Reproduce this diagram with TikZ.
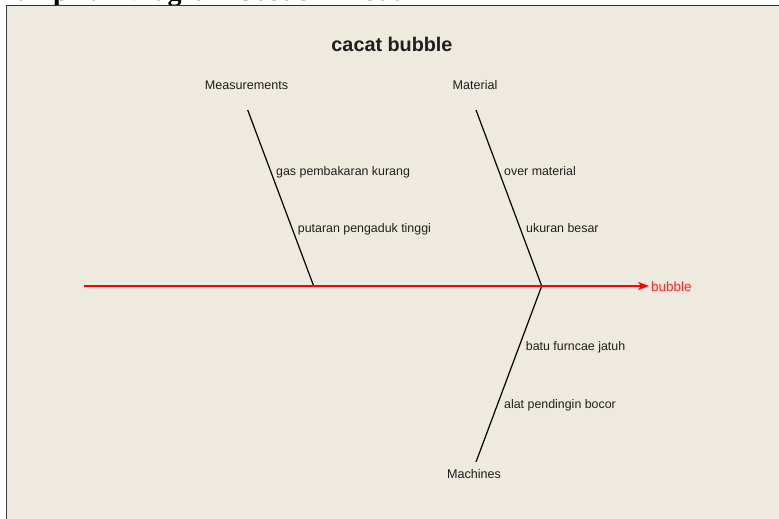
\documentclass[tikz,border=0pt]{standalone}
\usepackage{fontspec}
\setmainfont{Liberation Sans}
\newfontfamily\serifbold{Liberation Serif}
\usetikzlibrary{arrows.meta}
\definecolor{panelbg}{RGB}{239,234,224}
\definecolor{txtgray}{RGB}{30,30,30}
\definecolor{spinered}{RGB}{255,0,0}
\definecolor{effectred}{RGB}{255,40,40}
\tikzset{
  lbl/.style={inner sep=0pt, anchor=base west, text=txtgray, font=\fontsize{12.4}{14}\selectfont},
  catlbl/.style={inner sep=0pt, anchor=base, text=txtgray, font=\fontsize{12.6}{14}\selectfont},
  bone/.style={draw=black, line width=1.2pt},
  spine/.style={draw=spinered, line width=1.4pt, -{Stealth[length=11pt,width=8pt,inset=3pt]}},
}
\begin{document}
\begin{tikzpicture}[x=1pt,y=-1pt]
\useasboundingbox (0,0) rectangle (779,519);
% cut-off heading above the panel
\node[inner sep=0pt, anchor=base west, font=\serifbold\bfseries\fontsize{28}{30}\selectfont] (heading) at (-3,0.8) {Lampiran Diagram Sebab Akibat};
% panel
\fill[panelbg] (6,5) rectangle (790,530);
\draw[line width=1.6pt, draw={rgb,255:red,50;green,50;blue,50}] (6,5.5) -- (790,5.5);
\draw[line width=1pt, draw={rgb,255:red,60;green,60;blue,60}] (6.3,5) -- (6.3,530);
% title
\node[inner sep=0pt, anchor=base, text=txtgray, font=\bfseries\fontsize{19.8}{21}\selectfont] (title) at (392,52) {cacat bubble};
% category labels
\node[catlbl] (meas) at (246.5,89) {Measurements};
\node[catlbl] (mat) at (475,89) {Material};
\node[catlbl] (mach) at (474,478.3) {Machines};
% bone coordinates
\coordinate (measTop) at (247.7,110);
\coordinate (measBot) at (313.7,286);
\coordinate (matTop) at (476,110);
\coordinate (joint) at (541.7,286);
\coordinate (machBot) at (476,462);
\coordinate (spineStart) at (84,286);
\coordinate (spineEnd) at (649,286);
% bones
\draw[bone] (measTop) -- (measBot);
\draw[bone] (matTop) -- (joint);
\draw[bone] (joint) -- (machBot);
% spine
\draw[spine] (spineStart) -- (spineEnd);
\node[inner sep=0pt, anchor=base west, text=effectred, font=\fontsize{13.5}{15}\selectfont] (effect) at (651,291.7) {bubble};
% causes
\node[lbl] (c1) at (276,175) {gas pembakaran kurang};
\node[lbl] (c2) at (297.7,232.7) {putaran pengaduk tinggi};
\node[lbl] (c3) at (504,175) {over material};
\node[lbl] (c4) at (526,232.7) {ukuran besar};
\node[lbl] (c5) at (525.7,350) {batu furncae jatuh};
\node[lbl] (c6) at (504,408) {alat pendingin bocor};
\end{tikzpicture}
\end{document}
